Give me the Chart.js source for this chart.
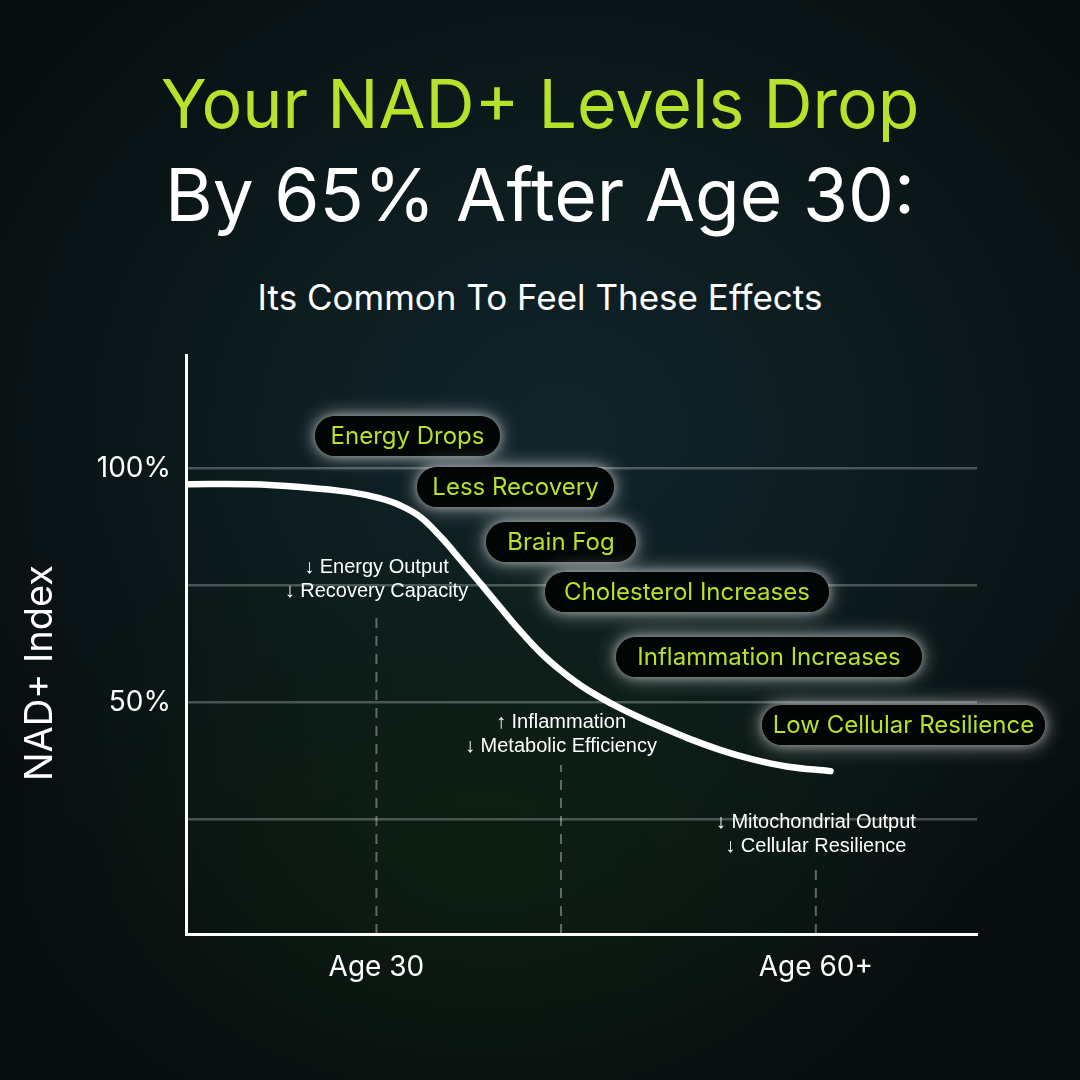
<!DOCTYPE html>
<html>
<head>
<meta charset="utf-8">
<title>NAD+ Levels</title>
<script src="https://cdn.jsdelivr.net/npm/chart.js@4.4.1/dist/chart.umd.min.js"></script>
<style>
  html, body { margin: 0; padding: 0; }
  body {
    width: 1080px; height: 1080px; overflow: hidden; position: relative;
    background:
      radial-gradient(ellipse 45% 30% at 45% 78%, rgba(14, 32, 16, 0.9), rgba(14, 32, 16, 0) 100%),
      radial-gradient(ellipse 62% 55% at 52% 40%, #10242a 0%, #0d1c1f 45%, #0a1416 75%, #080e10 100%);
    font-family: Inter, "Noto Sans", sans-serif;
  }
  .head { position: absolute; left: 0; width: 1080px; text-align: center; line-height: 1; white-space: nowrap; }
  #h1 { top: 69px; font-size: 68px; color: #b6e22c; }
  #h2 { top: 158px; font-size: 73px; color: #ffffff; }
  #h3 { top: 280px; font-size: 35px; color: #ffffff; }
  #wrap { position: absolute; left: 0; top: 0; width: 1080px; height: 1080px; }
</style>
</head>
<body>
<div class="head" id="h1">Your NAD+ Levels Drop</div>
<div class="head" id="h2">By 65% After Age 30:</div>
<div class="head" id="h3">Its Common To Feel These Effects</div>
<div id="wrap"><canvas id="chart" width="1080" height="1080"></canvas></div>

<script>
// ---- data ----
const ages     = [17, 21.4, 24.8, 28.2, 30.2, 31.6, 33.0, 34.4, 35.7, 37.1, 38.4, 39.8, 41.2, 42.5, 43.9, 45.3, 46.6, 48.0, 49.4, 51.2, 53.5, 55.7, 58.0, 61.0];
const nadIndex = [96.6, 96.6, 96.0, 94.9, 93.6, 92.1, 89.6, 85.3, 80.6, 75.4, 70.5, 65.3, 60.6, 57.0, 53.7, 51.0, 48.8, 46.7, 44.8, 42.4, 39.8, 37.8, 36.3, 35.3];

const ageTicks   = [30, 60];
const ageLabels  = ['Age 30', 'Age 60+'];
const gridValues = [25, 50, 75, 100];
const pctLabels  = { 50: '50%', 100: '100%' };

const markerAges  = [30, 42.6, 60];
const markerTops  = [69.7, 36.6, 15.2];
const markerNotes = [
  ['↓ Energy Output', '↓ Recovery Capacity'],
  ['↑ Inflammation', '↓ Metabolic Efficiency'],
  ['↓ Mitochondrial Output', '↓ Cellular Resilience'],
];

const effects = ['Energy Drops', 'Less Recovery', 'Brain Fog', 'Cholesterol Increases', 'Inflammation Increases', 'Low Cellular Resilience'];

// ---- layout (pixels) ----
const pillBoxes = [ // left, centerY, width
  [315, 436, 185],
  [417, 487, 197],
  [486, 542, 150],
  [545, 592, 284],
  [616, 657, 306],
  [762, 725, 283],
];

const LIME = '#b6e22c';
const Y_MIN = 0.5, Y_MAX = 124.2;

function roundRect(ctx, x, y, w, h, r) {
  ctx.beginPath();
  ctx.moveTo(x + r, y);
  ctx.arcTo(x + w, y, x + w, y + h, r);
  ctx.arcTo(x + w, y + h, x, y + h, r);
  ctx.arcTo(x, y + h, x, y, r);
  ctx.arcTo(x, y, x + w, y, r);
  ctx.closePath();
}

const overlay = {
  id: 'overlay',
  afterDraw(chart) {
    const { ctx, scales: { x, y } } = chart;
    ctx.save();

    // y title
    ctx.save();
    ctx.translate(41, 673);
    ctx.rotate(-Math.PI / 2);
    ctx.fillStyle = '#fff';
    ctx.font = '38px Inter, sans-serif';
    ctx.textAlign = 'center';
    ctx.textBaseline = 'middle';
    ctx.fillText('NAD+ Index', 0, 0);
    ctx.restore();

    // notes above the dashed markers
    ctx.fillStyle = '#fff';
    ctx.font = '20px "Liberation Sans", Arial, sans-serif';
    ctx.textAlign = 'center';
    ctx.textBaseline = 'middle';
    markerAges.forEach((a, i) => {
      const px = x.getPixelForValue(a);
      const top = y.getPixelForValue(markerTops[i]);
      ctx.fillText(markerNotes[i][0], px, top - 43);
      ctx.fillText(markerNotes[i][1], px, top - 19);
    });

    // glowing pills
    pillBoxes.forEach(([left, cy, w], i) => {
      const h = 40;
      ctx.save();
      ctx.shadowColor = 'rgba(255,255,255,0.6)';
      ctx.shadowBlur = 20;
      ctx.fillStyle = '#020504';
      roundRect(ctx, left, cy - h / 2, w, h, h / 2);
      ctx.fill();
      ctx.shadowBlur = 8;
      ctx.shadowColor = 'rgba(255,255,255,0.35)';
      ctx.fill();
      ctx.restore();
      ctx.fillStyle = LIME;
      ctx.font = '24px Inter, sans-serif';
      ctx.textAlign = 'center';
      ctx.textBaseline = 'middle';
      ctx.fillText(effects[i], left + w / 2, cy + 1);
    });

    ctx.restore();
  }
};

const markerSets = markerAges.map((a, i) => ({
  data: [{ x: a, y: Y_MIN }, { x: a, y: markerTops[i] }],
  borderColor: 'rgba(255,255,255,0.35)',
  borderWidth: 2,
  borderDash: [10, 8],
  pointRadius: 0,
  fill: false,
}));

new Chart(document.getElementById('chart'), {
  type: 'line',
  data: {
    datasets: [
      ...markerSets,
      {
        label: 'NAD+ Index',
        data: ages.map((a, i) => ({ x: a, y: nadIndex[i] })),
        borderColor: '#ffffff',
        borderWidth: 6.5,
        borderCapStyle: 'round',
        pointRadius: 0,
        tension: 0.4,
        fill: false,
      },
    ],
  },
  options: {
    responsive: false,
    animation: false,
    layout: { padding: { top: 355, right: 103, left: 0, bottom: 0 } },
    plugins: { legend: { display: false }, tooltip: { enabled: false } },
    scales: {
      x: {
        type: 'linear',
        min: 17,
        max: 71,
        grid: { display: false },
        border: { color: '#ffffff', width: 3 },
        afterBuildTicks: (s) => { s.ticks = ageTicks.map(v => ({ value: v })); },
        afterFit: (s) => { s.height = 146; },
        ticks: {
          color: '#ffffff',
          font: { size: 28, family: 'Inter' },
          padding: 9,
          maxRotation: 0,
          callback: (v) => ageLabels[ageTicks.indexOf(v)] || '',
        },
      },
      y: {
        min: Y_MIN,
        max: Y_MAX,
        afterBuildTicks: (s) => { s.ticks = gridValues.map(v => ({ value: v })); },
        afterFit: (s) => { s.width = 186; },
        grid: { color: 'rgba(255,255,255,0.26)', lineWidth: 2.5, drawTicks: false },
        border: { color: '#ffffff', width: 3 },
        ticks: {
          color: '#ffffff',
          font: { size: 28, family: 'Inter' },
          padding: 15,
          callback: (v) => pctLabels[v] || '',
        },
      },
    },
  },
  plugins: [overlay],
});
</script>
</body>
</html>
